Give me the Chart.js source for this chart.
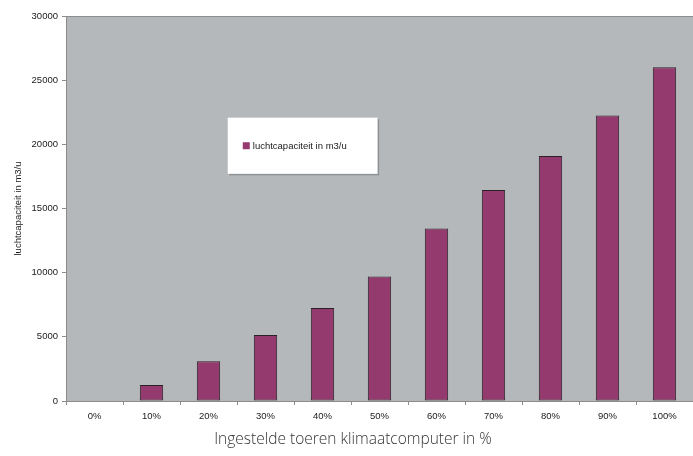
<!DOCTYPE html>
<html>
<head>
<meta charset="utf-8">
<script src="https://cdn.jsdelivr.net/npm/chart.js@4"></script>
<style>
html,body{margin:0;padding:0;background:#fff;}
#wrap{width:693px;height:456px;position:relative;}
#xt{position:absolute;left:0;width:706px;top:428px;text-align:center;font-family:"Open Sans",sans-serif;font-weight:300;font-size:15.5px;color:#333;line-height:20px;}
</style>
</head>
<body>
<div id="wrap"><canvas id="c" width="693" height="456"></canvas><div id="xt"></div></div>
<script>
const categories = ['0%','10%','20%','30%','40%','50%','60%','70%','80%','90%','100%'];
const capaciteit = [0, 1250, 3100, 5150, 7250, 9700, 13450, 16450, 19100, 22250, 26000];
const seriesLabel = 'luchtcapaciteit in m3/u';
const yTitle = 'luchtcapaciteit in m3/u';
const xTitle = 'Ingestelde toeren klimaatcomputer in %';

document.getElementById('xt').textContent = xTitle;

const plotBg = {
  id: 'plotBg',
  beforeDraw(chart) {
    const {ctx, chartArea: a} = chart;
    ctx.save();
    ctx.fillStyle = '#b5b8bb';
    ctx.fillRect(a.left, a.top, a.right - a.left, a.bottom - a.top);
    ctx.strokeStyle = '#8c8c8c';
    ctx.lineWidth = 1;
    ctx.beginPath();
    ctx.moveTo(a.left, a.top + 0.5);
    ctx.lineTo(a.right, a.top + 0.5);
    ctx.stroke();
    ctx.restore();
  }
};

const boxLegend = {
  id: 'boxLegend',
  afterDraw(chart) {
    const {ctx, chartArea: a} = chart;
    const w = a.right - a.left, h = a.bottom - a.top;
    const x = a.left + w * 0.258, y = a.top + h * 0.264;
    const bw = w * 0.239, bh = h * 0.146;
    ctx.save();
    ctx.fillStyle = '#8e9194';
    ctx.fillRect(x + 1.5, y + 1.5, bw, bh);
    ctx.fillStyle = '#ffffff';
    ctx.fillRect(x, y, bw, bh);
    const ds = chart.data.datasets[0];
    const cy = y + bh * 0.5;
    ctx.fillStyle = ds.backgroundColor;
    ctx.fillRect(x + 15, cy - 3.5, 7, 7);
    ctx.fillStyle = '#1a1a1a';
    ctx.font = '9.5px "Liberation Sans", Arial, sans-serif';
    ctx.textBaseline = 'middle';
    ctx.fillText(ds.label, x + 25, cy + 0.5);
    ctx.restore();
  }
};

const tickFont = { family: '"Liberation Sans", Arial, sans-serif', size: 9.5 };

new Chart(document.getElementById('c'), {
  type: 'bar',
  data: {
    labels: categories,
    datasets: [{
      label: seriesLabel,
      data: capaciteit,
      backgroundColor: '#943a6e',
      borderColor: '#2a2026',
      borderWidth: 1,
      borderSkipped: false,
      barPercentage: 0.41,
      categoryPercentage: 1.0
    }]
  },
  options: {
    responsive: false,
    animation: false,
    layout: { padding: { top: 16, left: 0, right: 0, bottom: 33 } },
    plugins: {
      legend: { display: false },
      tooltip: { enabled: false },
      title: { display: false }
    },
    scales: {
      x: {
        offset: true,
        grid: { display: true, drawOnChartArea: false, offset: true, color: '#8c8c8c', tickLength: 4, tickColor: '#8c8c8c' },
        border: { display: true, color: '#8c8c8c' },
        ticks: { color: '#1a1a1a', font: tickFont, padding: 6, maxRotation: 0 },
        afterFit(s) { s.height = 22; }
      },
      y: {
        min: 0, max: 30000,
        ticks: { stepSize: 5000, color: '#1a1a1a', font: tickFont, padding: 4,
          callback: (v) => String(v) },
        grid: { display: true, drawOnChartArea: false, color: '#8c8c8c', tickLength: 4, tickColor: '#8c8c8c' },
        border: { display: true, color: '#8c8c8c' },
        title: {
          display: true, text: yTitle, color: '#1a1a1a',
          font: tickFont,
          padding: { top: 13, bottom: 0 }
        },
        afterFit(s) { s.width = 66; }
      }
    }
  },
  plugins: [plotBg, boxLegend]
});
</script>
</body>
</html>
